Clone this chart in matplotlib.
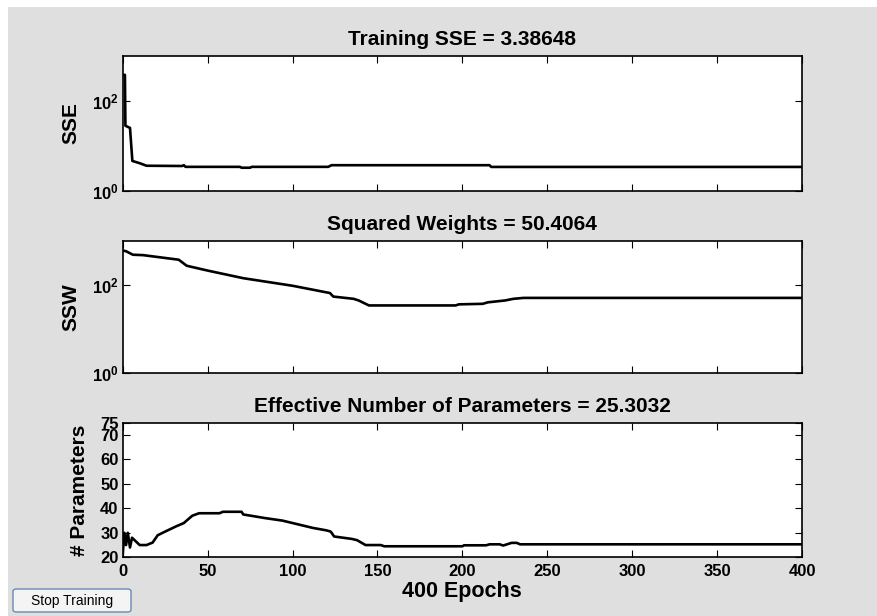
import numpy as np
import matplotlib
matplotlib.use("Agg")
import matplotlib.pyplot as plt
from matplotlib.patches import Rectangle, FancyBboxPatch

plt.rcParams['font.family'] = ['Liberation Sans', 'DejaVu Sans']
plt.rcParams['font.weight'] = 'bold'
plt.rcParams['mathtext.fontset'] = 'custom'
plt.rcParams['mathtext.rm'] = 'Liberation Sans:bold'
plt.rcParams['mathtext.bf'] = 'Liberation Sans:bold'

# training record (epoch, value)
sse_ep = [0, 1.3, 1.6, 4.3, 5.7, 10, 14, 35, 36, 37, 69, 70, 75, 76, 121, 123, 216, 217, 400]
sse_val = [380, 380, 28, 25, 4.6, 4.1, 3.6, 3.55, 3.7, 3.4, 3.4, 3.25, 3.25, 3.4, 3.4, 3.7, 3.7, 3.386, 3.386]

ssw_ep = [0, 2, 6, 12, 33, 37.7, 50, 71, 100, 122, 124, 136, 139, 145, 196, 198, 212, 215, 225, 230, 236, 400]
ssw_val = [600, 575, 480, 470, 370, 270, 210, 141, 95, 65, 54, 48, 44, 34, 34, 36, 37, 40, 44, 48, 50.4, 50.4064]

par_ep = [0, 1, 2, 3, 4.3, 5.5, 7, 10, 14, 17.6, 20.6, 23.5, 31, 36, 41, 45, 57, 59, 70, 71, 84, 94, 100,
          112, 120, 122.5, 124.5, 135, 138, 143, 152, 154, 200, 201, 214, 216, 222, 224, 229, 232, 234, 400]
par_val = [21, 30, 25, 30, 24, 28, 27, 25, 25, 26, 29, 30, 32.5, 34, 37, 38, 38, 38.6, 38.6, 37.5, 36, 35, 34,
           32, 31, 30.5, 28.5, 27.5, 27, 25, 25, 24.5, 24.5, 24.9, 24.9, 25.3, 25.3, 24.8, 25.9, 25.9, 25.3, 25.3032]

titles = ['Training SSE = 3.38648', 'Squared Weights = 50.4064',
          'Effective Number of Parameters = 25.3032']
ylabels = ['SSE', 'SSW', '# Parameters']
xticks = [0, 50, 100, 150, 200, 250, 300, 350, 400]
par_ticks = [20, 30, 40, 50, 60, 70, 75]

fig = plt.figure(figsize=(8.77, 6.16), dpi=100, facecolor='white')
fig.patches.append(Rectangle((8 / 877, 0), 1, 1 - 7 / 616, transform=fig.transFigure,
                             facecolor='#dfdfdf', edgecolor='none', zorder=-10))

pos = [[0.1399, 0.6904, 0.7746, 0.2187],
       [0.1399, 0.3945, 0.7746, 0.2148],
       [0.1399, 0.0953, 0.7746, 0.2185]]
axes = [fig.add_axes(p) for p in pos]

axes[0].semilogy(sse_ep, sse_val, color='black', lw=1.9)
axes[1].semilogy(ssw_ep, ssw_val, color='black', lw=1.9)
axes[2].plot(par_ep, par_val, color='black', lw=1.9)

for i, ax in enumerate(axes):
    ax.set_facecolor('white')
    ax.set_xlim(0, 400)
    ax.set_xticks(xticks)
    ax.set_title(titles[i], fontsize=15, fontweight='bold', pad=8)
    ax.tick_params(direction='in', top=True, right=True, length=5, width=0.8,
                   labelsize=12, pad=5)
    ax.minorticks_off()
    for s in ax.spines.values():
        s.set_linewidth(1.2)
    if i < 2:
        ax.set_ylim(1, 1000)
        ax.set_yticks([1, 100])
        ax.set_yticklabels([r'$\mathbf{10^0}$', r'$\mathbf{10^2}$'])
        ax.tick_params(axis='y', which='minor', left=False, right=False)
        ax.tick_params(axis='y', pad=3)
        ax.set_xticklabels([])
        ax.set_ylabel(ylabels[i], fontsize=15, fontweight='bold', labelpad=8)
    else:
        ax.set_ylim(20, 75)
        ax.set_yticks(par_ticks)
        ax.tick_params(axis='y', pad=3)
        ax.set_ylabel(ylabels[i], fontsize=15, fontweight='bold', labelpad=8)
        ax.set_xlabel('400 Epochs', fontsize=15.5, fontweight='bold', labelpad=1)
        for lbl in ax.get_xticklabels() + ax.get_yticklabels():
            lbl.set_fontweight('bold')

# the little button in the corner
fig.patches.append(FancyBboxPatch((13 / 877, 4 / 616), 118 / 877, 23 / 616,
                                  boxstyle='round,pad=0,rounding_size=0.004',
                                  transform=fig.transFigure, facecolor='#f4f4f4',
                                  edgecolor='#6a8ab0', lw=1.0))
fig.text(72 / 877, 15 / 616, 'Stop Training', ha='center', va='center',
         fontsize=10, fontweight='normal', family=['Liberation Sans', 'DejaVu Sans'])

fig.savefig('out.png', dpi=100, facecolor=fig.get_facecolor())
